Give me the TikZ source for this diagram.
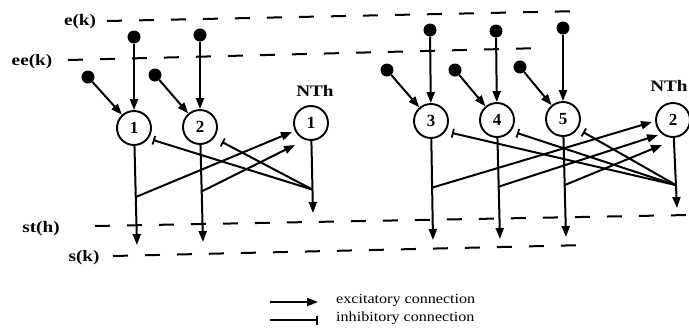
\documentclass[tikz,border=0pt]{standalone}
\usepackage{graphicx}
\usepackage{fontspec}
\setmainfont{Liberation Serif}
\usetikzlibrary{arrows.meta,calc}
% slightly widened lettering for labels
\newcommand\widetext[2]{\scalebox{#1}[1]{#2}}
\begin{document}
\begin{tikzpicture}[x=1pt,y=-1pt,
  neuron/.style={circle,draw,line width=1.9pt,minimum size=34pt,inner sep=0pt,
                 font=\fontsize{17}{17}\selectfont\bfseries},
  src/.style={circle,fill,inner sep=0pt,minimum size=13pt},
  conn/.style={line width=2pt},
  exc/.style={conn,-{Triangle[length=11pt,width=8pt]}},
  inh/.style={conn,-{Bar[width=9pt,line width=1.8pt]}},
  levelline/.style={line width=2pt,dash pattern=on 15pt off 17pt},
  lab/.style={inner sep=0pt,font=\fontsize{16}{16}\selectfont\bfseries},
  legtext/.style={inner sep=0pt,anchor=west,font=\fontsize{14}{14}\selectfont}
]
\useasboundingbox (0,0) rectangle (689,330);

% ---- level lines and their labels ----
\coordinate (ekA) at (107,21);  \coordinate (ekB) at (583,11);
\coordinate (eeA) at (68,60);   \coordinate (eeB) at (543,48);
\coordinate (stA) at (95,226);  \coordinate (stB) at (689,215);
\coordinate (skA) at (113,256); \coordinate (skB) at (587,245);
\draw[levelline] (ekA) -- (ekB);
\draw[levelline] (eeA) -- (eeB);
\draw[levelline] (stA) -- (stB);
\draw[levelline] (skA) -- (skB);
\node[lab] (ek) at (80,22)  {\widetext{1.2}{e(k)}};
\node[lab] (ee) at (32,62)  {\widetext{1.2}{ee(k)}};
\node[lab] (st) at (41,229) {\widetext{1.2}{st(h)}};
\node[lab] (sk) at (84,258) {\widetext{1.2}{s(k)}};

% ---- neurons ----
\node[neuron] (n1)   at (134,128) {1};
\node[neuron] (n2)   at (200,127) {2};
\node[neuron] (nth1) at (311,123) {1};
\node[neuron] (n3)   at (431,121) {3};
\node[neuron] (n4)   at (497,120) {4};
\node[neuron] (n5)   at (563,119) {5};
\node[neuron] (nth2) at (673,120) {2};
\node[lab] (th1) at (315,91) {\widetext{1.2}{NTh}};
\node[lab] (th2) at (669,86) {\widetext{1.2}{NTh}};

% ---- input sources ----
\node[src] (v1) at (134,37) {};  \node[src] (d1) at (88,77)  {};
\node[src] (v2) at (200,35) {};  \node[src] (d2) at (155,75) {};
\node[src] (v3) at (430,30) {};  \node[src] (d3) at (387,70) {};
\node[src] (v4) at (496,31) {};  \node[src] (d4) at (455,70) {};
\node[src] (v5) at (563,28) {};  \node[src] (d5) at (520,67) {};
\foreach \i in {1,...,5}{
  \draw[exc] (v\i) -- (n\i);
  \draw[exc] (d\i) -- (n\i);
}

% ---- outputs ----
\coordinate (o1) at (137,245);
\coordinate (o2) at (203,242);
\coordinate (o3) at (433,240);
\coordinate (o4) at (500,239);
\coordinate (o5) at (566,237);
\coordinate (ot1) at (313,213);
\coordinate (ot2) at (677,208);
\foreach \i in {1,...,5}{ \draw[exc] (n\i) -- (o\i); }
\draw[exc] (nth1) -- (ot1);
\draw[exc] (nth2) -- (ot2);

% branch points on the output lines
\coordinate (b1) at ($(n1)!0.59!(o1)$);
\coordinate (b2) at ($(n2)!0.56!(o2)$);
\coordinate (b3) at ($(n3)!0.56!(o3)$);
\coordinate (b4) at ($(n4)!0.56!(o4)$);
\coordinate (b5) at ($(n5)!0.56!(o5)$);
\coordinate (h1) at ($(nth1)!0.74!(ot1)$);
\coordinate (h2) at ($(nth2)!0.74!(ot2)$);

% excitatory links into the threshold neurons
\draw[exc] (b1) -- ($(nth1)+(-19,9)$);
\draw[exc] (b2) -- ($(nth1)+(-16,22)$);
\draw[exc] (b3) -- ($(nth2)+(-21,2)$);
\draw[exc] (b4) -- ($(nth2)+(-15,15)$);
\draw[exc] (b5) -- ($(nth2)+(-11,25)$);

% inhibitory feedback from the threshold neurons
\draw[inh] (h1) -- ($(n1)+(19,12)$);
\draw[inh] (h1) -- ($(n2)+(22,15)$);
\draw[inh] (h2) -- ($(n3)+(21,12)$);
\draw[inh] (h2) -- ($(n4)+(20,13)$);
\draw[inh] (h2) -- ($(n5)+(20,13)$);

% ---- legend ----
\coordinate (la1) at (270,302); \coordinate (la2) at (318,302);
\coordinate (lb1) at (270,320); \coordinate (lb2) at (318,320);
\draw[exc] (la1) -- (la2);
\draw[inh] (lb1) -- (lb2);
\node[legtext] (lt1) at (336,300) {\widetext{1.15}{excitatory connection}};
\node[legtext] (lt2) at (336,318) {\widetext{1.15}{inhibitory connection}};
\end{tikzpicture}
\end{document}
